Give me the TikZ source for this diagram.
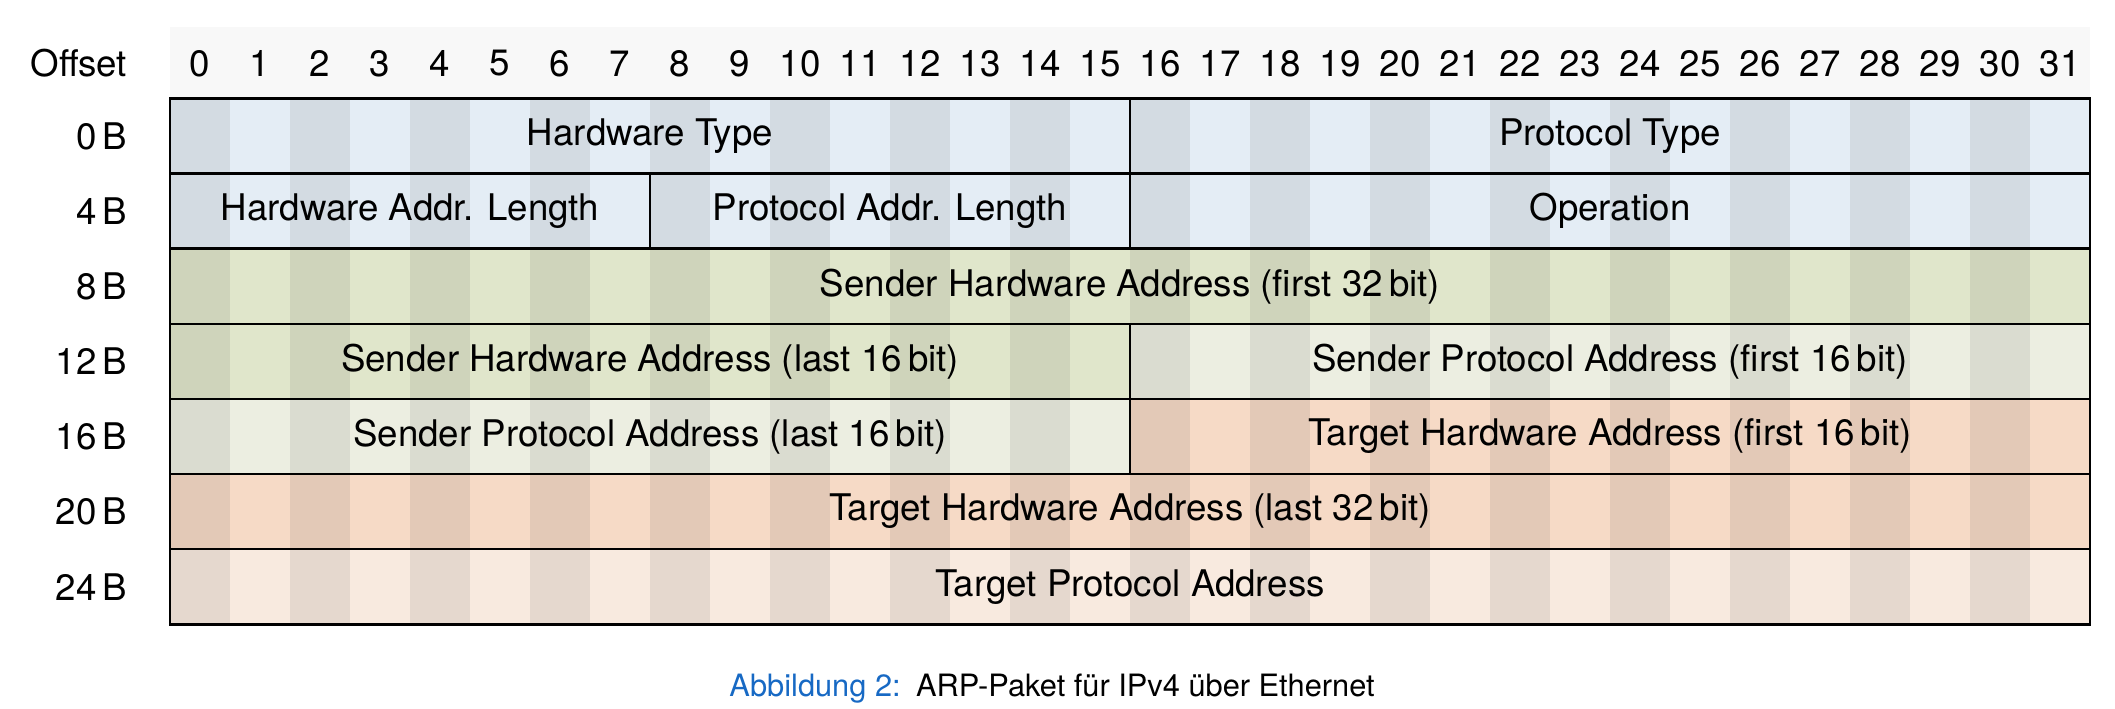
\documentclass[tikz,border=0pt]{standalone}
\usepackage{fontspec}
\setmainfont{TeX Gyre Heros}
\usepackage{xcolor}
\usetikzlibrary{backgrounds,positioning}
\definecolor{arphead}{HTML}{F8F8F8}
\definecolor{arpblue}{HTML}{E4EDF5}
\definecolor{arpgreen}{HTML}{E0E6CB}
\definecolor{arplgreen}{HTML}{ECEEE1}
\definecolor{arppeach}{HTML}{F6DAC6}
\definecolor{arplpeach}{HTML}{F8EADF}
\definecolor{arpcap}{HTML}{1769C4}
\tikzset{
  arp field/.style={draw=black,line width=0.6pt},
  arp stripe/.style={fill=black,opacity=0.075},
  arp text/.style={font=\fontsize{8.7}{10.4}\selectfont,inner sep=0pt},
  arp offset/.style={arp text,anchor=east},
  arp caption/.style={font=\fontsize{7.3}{9}\selectfont,inner sep=0pt}
}

\begin{document}
\begin{tikzpicture}[x=0.5cm,y=-0.626cm]
\useasboundingbox (-2.834,-1.31) rectangle (32.416,8.128);
\fill[arphead] (0,-0.95) rectangle (32,0);
\node[arp offset] (offset) at (-0.7,-0.466) {Offset};
\foreach \n in {0,...,31}
  \node[arp text] (b\n) at (\n+0.5,-0.466) {\n};
\foreach \r [evaluate=\r as \o using int(4*\r)] in {0,...,6}
  \node[arp offset] (r\r) at (-0.7,\r+0.5) {\o\,B};
\foreach \xa/\xb/\r/\col/\txt [count=\i] in {
    0/16/0/arpblue/Hardware Type,
    16/32/0/arpblue/Protocol Type,
    0/8/1/arpblue/Hardware Addr. Length,
    8/16/1/arpblue/Protocol Addr. Length,
    16/32/1/arpblue/Operation,
    0/32/2/arpgreen/Sender Hardware Address (first 32\,bit),
    0/16/3/arpgreen/Sender Hardware Address (last 16\,bit),
    16/32/3/arplgreen/Sender Protocol Address (first 16\,bit),
    0/16/4/arplgreen/Sender Protocol Address (last 16\,bit),
    16/32/4/arppeach/Target Hardware Address (first 16\,bit),
    0/32/5/arppeach/Target Hardware Address (last 32\,bit),
    0/32/6/arplpeach/Target Protocol Address}{
  \begin{scope}[on background layer]
    \fill[\col] (\xa,\r) rectangle (\xb,\r+1);
  \end{scope}
  \draw[arp field] (\xa,\r) rectangle (\xb,\r+1);
  \node[arp text] (f\i) at ({(\xa+\xb)/2},\r+0.5) {\txt};
}
\begin{scope}[on background layer]
  \foreach \n in {0,2,...,30}
    \fill[arp stripe] (\n,-0.95) rectangle (\n+1,7);
\end{scope}
\node[arp caption] (cap) at (14.7,7.86)
  {\textcolor{arpcap}{Abbildung 2:}\enspace ARP-Paket für IPv4 über Ethernet};
\end{tikzpicture}
\end{document}
